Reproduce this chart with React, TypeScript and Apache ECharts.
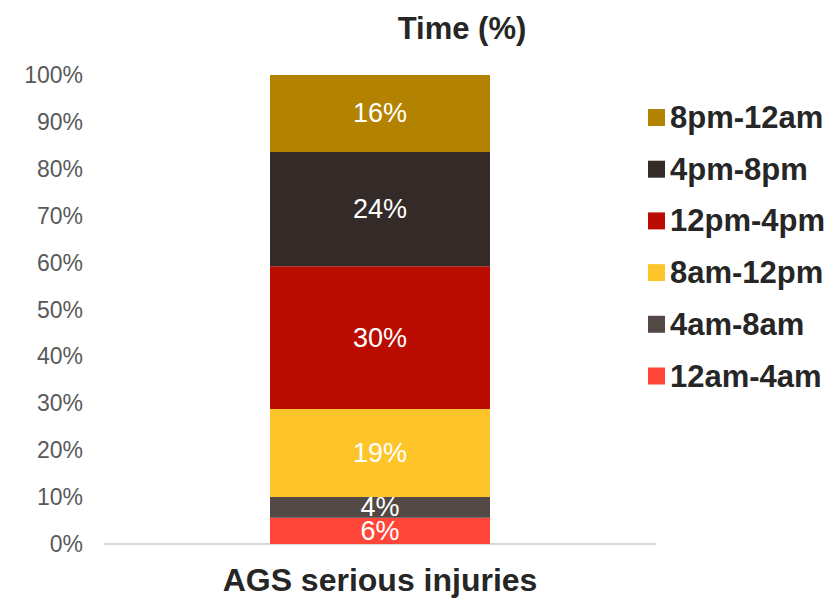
import React, { useEffect, useRef } from "react";
import * as echarts from "echarts";

const categories = ["AGS serious injuries"];
const seriesNames = ["12am-4am", "4am-8am", "8am-12pm", "12pm-4pm", "4pm-8pm", "8pm-12am"];
const seriesValues = [5.6, 4.4, 18.8, 30.4, 24.4, 16.4];
const seriesColors = ["#FF4639", "#524845", "#FEC52A", "#BA0C00", "#342B29", "#B38200"];
const legendOrder = ["8pm-12am", "4pm-8pm", "12pm-4pm", "8am-12pm", "4am-8am", "12am-4am"];
const titleText = "Time (%)";

const FONT = "'Liberation Sans', Arial, sans-serif";

export default function App() {
  const ref = useRef<HTMLDivElement>(null);
  useEffect(() => {
    if (!ref.current) return;
    const chart = echarts.init(ref.current, null, { renderer: "svg" });
    chart.setOption({
      animation: false,
      backgroundColor: "#ffffff",
      title: {
        text: titleText,
        left: 457,
        textAlign: "center",
        top: 8,
        textStyle: { fontFamily: FONT, fontSize: 31, fontWeight: "bold", color: "#262626" },
      },
      legend: {
        orient: "vertical",
        left: 643,
        top: 97,
        itemWidth: 17,
        itemHeight: 17,
        itemGap: 20.7,
        icon: "rect",
        data: legendOrder,
        textStyle: {
          fontFamily: FONT,
          fontSize: 31,
          fontWeight: "bold",
          color: "#262626",
          lineHeight: 31,
        },
      },
      grid: { left: 105, right: 180, top: 75, bottom: 54, containLabel: false },
      xAxis: {
        type: "category",
        data: categories,
        axisLine: { lineStyle: { color: "#D9D9D9", width: 2 } },
        axisTick: { show: false },
        axisLabel: {
          margin: 20,
          fontFamily: FONT,
          fontSize: 32,
          fontWeight: "bold",
          color: "#262626",
        },
      },
      yAxis: {
        type: "value",
        min: 0,
        max: 100,
        interval: 10,
        splitLine: { show: false },
        axisLine: { show: false },
        axisTick: { show: false },
        axisLabel: {
          margin: 22,
          formatter: "{value}%",
          fontFamily: FONT,
          fontSize: 23,
          color: "#595959",
        },
      },
      series: seriesNames.map((name, i) => ({
        name,
        type: "bar",
        stack: "total",
        barWidth: "40%",
        data: [seriesValues[i]],
        itemStyle: { color: seriesColors[i] },
        label: {
          show: true,
          position: "inside",
          formatter: (p: any) => Math.round(p.value) + "%",
          fontFamily: FONT,
          fontSize: 27,
          lineHeight: 20,
          color: "#ffffff",
        },
      })),
    });
    return () => chart.dispose();
  }, []);
  return <div ref={ref} style={{ width: 835, height: 598, position: "absolute", left: 0, top: 0 }} />;
}
